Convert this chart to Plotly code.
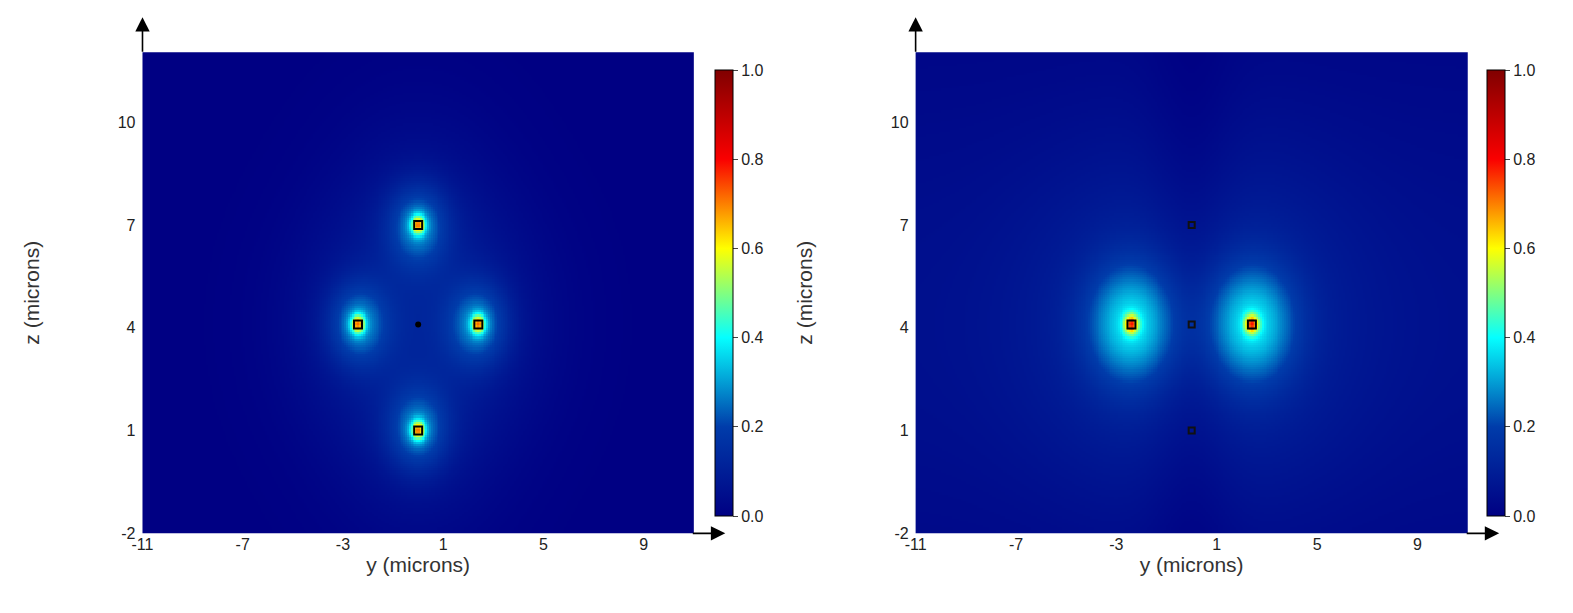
import numpy as np
import plotly.graph_objects as go

# source (wire) positions, in microns
left_y = [0.0, 0.0, -2.4, 2.4]
left_z = [7.0, 1.0, 4.1, 4.1]
left_amp = [0.42, 0.42, 0.42, 0.42]
left_glow = [0.2, 0.2, 0.2, 0.2]
right_y = [-2.4, 2.4]
right_z = [4.1, 4.1]
right_amp = [0.4, 0.4]
right_glow = [0.26, 0.26]
marker_y_right = [0.0, 0.0, 0.0]
marker_z_right = [7.0, 4.1, 1.0]
center_y = [0.0]
center_z = [4.1]
xticks = [-11, -7, -3, 1, 5, 9]
zticks = [-2, 1, 4, 7, 10]
cticks = [0.0, 0.2, 0.4, 0.6, 0.8, 1.0]

ys = np.linspace(-11, 11, 300)
zs = np.linspace(-2, 12.05, 220)
Y, Z = np.meshgrid(ys, zs)

def field(py, pz, amp, glow, broad, wide):
    f = np.zeros_like(Y)
    for a, b, A, g in zip(py, pz, amp, glow):
        r2 = (Y - a) ** 2 + (Z - b) ** 2
        f += A * np.exp(-r2 / 0.08) + g * np.exp(-r2 / broad) + wide * np.exp(-r2 / (broad * 8))
    return np.clip(f, 0, 1)

FL = field(left_y, left_z, left_amp, left_glow, 1.3, 0.06)
FR = field(right_y, right_z, right_amp, right_glow, 2.8, 0.06)
FR = FR + 0.05 * np.exp(-((Z - 4.1) ** 2) / 80) * (1 - np.exp(-(Y ** 2) / 3))
FR = np.clip(FR, 0, 1)

fig = go.Figure()
cb = dict(thickness=18, len=0.76, y=0.535, tickvals=cticks, ticktext=[f"{v:.1f}" for v in cticks],
          tickfont=dict(size=16, family="Liberation Sans", color="#222"), outlinecolor="black", outlinewidth=1, ticks="outside")
fig.add_trace(go.Heatmap(x=ys, z=FL, y=zs, colorscale="Jet", zmin=0, zmax=1, xaxis="x", yaxis="y",
                         colorbar=dict(cb, x=0.443, xanchor="left")))
fig.add_trace(go.Heatmap(x=ys, z=FR, y=zs, colorscale="Jet", zmin=0, zmax=1, xaxis="x2", yaxis="y2",
                         colorbar=dict(cb, x=0.934, xanchor="left")))
fig.add_trace(go.Scatter(x=left_y, y=left_z, mode="markers", xaxis="x", yaxis="y", showlegend=False,
                         marker=dict(symbol="square-open", size=8, color="black", line=dict(width=2))))
fig.add_trace(go.Scatter(x=center_y, y=center_z, mode="markers", xaxis="x", yaxis="y", showlegend=False,
                         marker=dict(symbol="circle", size=6, color="black")))
fig.add_trace(go.Scatter(x=right_y, y=right_z, mode="markers", xaxis="x2", yaxis="y2", showlegend=False,
                         marker=dict(symbol="square-open", size=8, color="black", line=dict(width=2))))
fig.add_trace(go.Scatter(x=marker_y_right, y=marker_z_right, mode="markers", xaxis="x2", yaxis="y2", showlegend=False,
                         marker=dict(symbol="square-open", size=6, color="#111", line=dict(width=2))))

tf = dict(size=16, family="Liberation Sans", color="#222")
titf = dict(size=21, family="Liberation Sans", color="#333")
ax = dict(range=[-11, 11], tickvals=xticks, ticktext=[str(v) for v in xticks],
          tickfont=tf, showgrid=False, zeroline=False, ticks="", automargin=False,
          title=dict(text="y (microns)", font=titf, standoff=2))
az = dict(range=[-2, 12.05], tickvals=zticks, ticktext=[str(v) for v in zticks],
          tickfont=tf, showgrid=False, zeroline=False, ticks="", automargin=False, ticklabelstandoff=6,
          title=dict(text="z (microns)", font=titf, standoff=72))
fig.update_layout(
    width=1573, height=613, paper_bgcolor="white", plot_bgcolor="white",
    margin=dict(l=0, r=0, t=0, b=0), showlegend=False,
    xaxis=dict(ax, domain=[0.0855, 0.436], anchor="y"),
    yaxis=dict(az, domain=[0.143, 0.928], anchor="x"),
    xaxis2=dict(ax, domain=[0.577, 0.928], anchor="y2"),
    yaxis2=dict(az, domain=[0.143, 0.928], anchor="x2"),
)
anns = []
for x0, x1 in [(0.0855, 0.436), (0.577, 0.928)]:
    anns.append(dict(xref="paper", yref="paper", x=x0, y=0.985, ax=0, ay=36,
                     showarrow=True, arrowhead=2, arrowsize=1.8, arrowwidth=1.6, arrowcolor="black", text=""))
    anns.append(dict(xref="paper", yref="paper", x=x1 + 0.02, y=0.143, ax=-34, ay=0,
                     showarrow=True, arrowhead=2, arrowsize=1.8, arrowwidth=1.6, arrowcolor="black", text=""))
fig.update_layout(annotations=anns)
fig.write_html("out.html")
